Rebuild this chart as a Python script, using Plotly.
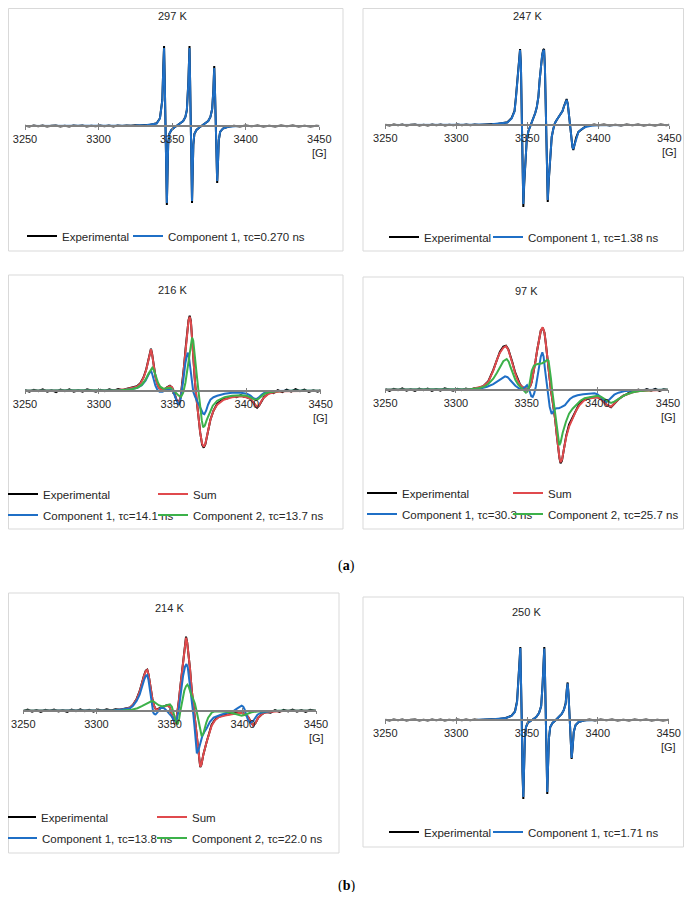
import plotly.graph_objects as go

# browser default page margin around the plot div
PAGE = 8
FW, FH = 692 - 2 * PAGE, 900 - 2 * PAGE
FIELD_TICKS = [3250, 3300, 3350, 3400, 3450]

# ---------------- data: (field [G], intensity [a.u.]) ----------------
# 297 K
P297_EXP = [(3250,0.3),(3253,-0.5),(3256,0.6),(3259,-0.2),(3262,0.4),(3265,-0.6),(3268,0.2),(3271,0.5),(3274,-0.4),(3277,0.3),
            (3280,-0.5),(3283,0.5),(3286,-0.1),(3289,0.6),(3292,-0.4),(3295,0.2),(3298,-0.3),(3301,0.5),(3304,-0.2),(3307,0.4),
            (3310,-0.5),(3313,0.4),(3316,-0.1),(3319,0.5),(3322,0.2),(3325,0.8),(3328,0.4),(3331,1.1),(3334,0.8),(3337,2.0),
            (3339.5,2.8),(3341.7,7.8),(3343.3,26),(3344,60),(3344.5,80),(3344.9,52),(3345.4,0),(3345.9,-57),(3346.4,-79),(3346.8,-52),
            (3347.3,-19),(3348,-8),(3349.5,-4),(3351.5,-1.5),(3353.5,0.5),(3355.5,2.5),(3357.5,5),(3359,9),(3360,16),(3361,44),
            (3361.6,74),(3361.8,80),(3362.2,46),(3362.7,0),(3363.1,-52),(3363.5,-77),(3363.9,-52),(3364.4,-19),(3365.1,-8),(3366.5,-4),
            (3368.5,-1.5),(3370.5,0.5),(3372.5,2.5),(3374.5,5),(3376,9),(3377.2,17),(3378,36),(3378.6,60),(3379.1,36),(3379.6,0),
            (3380.1,-39),(3380.6,-57),(3381.1,-39),(3381.7,-14),(3382.6,-6),(3384.5,-2.5),(3388,-0.8),(3392,0.3),(3396,-0.4),(3400,0.5),
            (3404,-0.3),(3408,0.5),(3412,-0.5),(3416,0.2),(3420,-0.6),(3424,0.4),(3428,-0.2),(3432,0.5),(3436,-0.4),(3440,0.3),
            (3444,-0.5),(3448,0.3),(3450,-0.1)]
P297_C1 = [(3250,0),(3280,0),(3310,0),(3325,0.5),(3333,1),(3337,1.8),(3339.5,2.5),(3341.7,7.5),(3343.3,25),(3344,58),
           (3344.5,78),(3344.9,50),(3345.4,0),(3345.9,-55),(3346.4,-77),(3346.8,-50),(3347.3,-18),(3348,-8),(3349.5,-4),(3351.5,-1.5),
           (3353.5,0.5),(3355.5,2.5),(3357.5,5),(3359,9),(3360,16),(3361,43),(3361.6,72),(3361.8,78),(3362.2,45),(3362.7,0),
           (3363.1,-50),(3363.5,-75),(3363.9,-50),(3364.4,-18),(3365.1,-8),(3366.5,-4),(3368.5,-1.5),(3370.5,0.5),(3372.5,2.5),(3374.5,5),
           (3376,9),(3377.2,17),(3378,35),(3378.6,58),(3379.1,35),(3379.6,0),(3380.1,-38),(3380.6,-55),(3381.1,-38),(3381.7,-14),
           (3382.6,-6),(3384.5,-2.5),(3388,-0.8),(3395,0),(3420,0),(3450,0)]

# 247 K
P247_EXP = [(3250,0.3),(3253,-0.4),(3256,0.5),(3259,-0.3),(3262,0.5),(3265,-0.6),(3268,0.2),(3271,0.5),(3274,-0.4),(3277,0.3),
            (3280,-0.5),(3283,0.4),(3286,-0.2),(3289,0.6),(3292,-0.4),(3295,0.3),(3298,-0.3),(3301,0.5),(3304,-0.2),(3307,0.4),
            (3310,-0.3),(3313,0.5),(3316,0.1),(3319,0.6),(3322,0.4),(3325,1.0),(3328,0.8),(3331,1.5),(3334,1.8),(3336,2.8),
            (3339,7),(3341,14),(3342,28),(3343,46),(3343.8,64),(3344.9,76),(3345.5,61),(3346.1,15),(3346.6,-42),(3347.2,-82),
            (3347.8,-60),(3348.6,-33),(3349.6,-15),(3350.8,-6),(3352,-1.5),(3353.2,3),(3354.4,7),(3355.6,12),(3356.7,18),(3357.8,28),
            (3358.7,45),(3359.6,60),(3360.5,70),(3361.2,75),(3361.8,76),(3362.4,58),(3363,12),(3363.7,-46),(3364.4,-77),(3365.1,-56),
            (3366,-32),(3367.2,-12),(3368.3,-4),(3369.5,2),(3370.7,5),(3372,8),(3373.5,10.5),(3374.8,14),(3375.9,19),(3376.9,24),
            (3377.7,26),(3378.5,21),(3379.3,11),(3380.1,-2),(3381,-15),(3381.8,-22),(3382.4,-25),(3383.2,-20),(3384.4,-12.5),(3386,-7),
            (3388.3,-4),(3391,-1.5),(3394,-0.4),(3397,0.5),(3400,-0.3),(3404,0.5),(3408,-0.5),(3412,0.3),(3416,-0.5),(3420,0.4),
            (3424,-0.2),(3428,0.5),(3432,-0.5),(3436,0.3),(3440,-0.6),(3444,0.4),(3448,-0.2),(3450,0.2)]
P247_C1 = [(3250,0),(3280,0),(3310,0.3),(3325,0.8),(3332,1.5),(3336,2.5),(3339,6.5),(3341,13.5),(3342,27),(3343,45),
           (3343.8,63),(3344.9,75),(3345.5,60),(3346.1,15),(3346.6,-40),(3347.2,-79),(3347.8,-58),(3348.6,-32),(3349.6,-15),(3350.8,-6),
           (3352,-1.5),(3353.2,3),(3354.4,7),(3355.6,12),(3356.7,18),(3357.8,28),(3358.7,45),(3359.6,60),(3360.5,70),(3361.2,74),
           (3361.8,75),(3362.4,58),(3363,12),(3363.7,-45),(3364.4,-75),(3365.1,-55),(3366,-32),(3367.2,-12),(3368.3,-4),(3369.5,2),
           (3370.7,5),(3372,8),(3373.5,10.5),(3374.8,14),(3375.9,19),(3376.9,23),(3377.7,25),(3378.5,21),(3379.3,11),(3380.1,-2),
           (3381,-15),(3381.8,-22),(3382.4,-24),(3383.2,-20),(3384.4,-12.5),(3386,-7),(3388.3,-4),(3391,-2),(3395,-0.8),(3400,-0.3),
           (3420,0),(3450,0)]

# 216 K
P216_EXP = [(3250,0.5),(3253,-1),(3256,1),(3259,-0.5),(3262,1.4),(3265,-1),(3268,0.5),(3271,-1.4),(3274,1),(3277,-0.5),
            (3280,1.4),(3283,-1),(3286,0.5),(3289,-1),(3292,1.4),(3295,0),(3298,-1),(3301,1),(3304,-0.5),(3307,1.4),
            (3310,0),(3313,1.6),(3316,0.5),(3319,2),(3322,3),(3325.7,4.5),(3328,7.5),(3330.2,13.5),(3332,21.5),(3333.5,32.5),
            (3334.5,40),(3335.2,42),(3336,36.5),(3337,24.5),(3338.2,14.5),(3339.3,7.5),(3340.5,3),(3342,1.5),(3344,0.5),(3346,3.5),
            (3348,5),(3349.5,3),(3351,-2),(3352.5,-9.5),(3354,-12.5),(3355.3,-6),(3356.5,8),(3357.6,25),(3358.6,42),(3359.6,58),
            (3360.6,70.5),(3361.4,75),(3362.2,69.5),(3363.1,50),(3364,25),(3365,8),(3366,-8),(3367.2,-25),(3368.5,-42),(3369.8,-54),
            (3370.9,-57),(3372,-53.5),(3373.5,-42),(3375.4,-29),(3377.5,-20),(3380,-13),(3382,-10.5),(3384.4,-8),(3387,-7.5),(3390,-5.5),
            (3393,-6.5),(3396,-4.5),(3398,-6),(3400,-6.5),(3402.5,-8),(3404.5,-12),(3406,-15.5),(3407,-17),(3408.3,-15),(3410,-10),
            (3411.6,-6.5),(3414,-3.5),(3416,-1.5),(3418,-2.5),(3421,0.5),(3424,-1.5),(3427,1),(3430,-1),(3433,1.5),(3436,-0.5),
            (3439,1.2),(3442,-1.3),(3445,0.5),(3448,-1),(3450,0.5)]
P216_SUM = [(3250,0),(3290,0),(3310,0.5),(3318,1.5),(3322,3),(3325.7,4),(3328,7),(3330.2,13),(3332,21),(3333.5,32),
            (3334.5,39),(3335.2,41.5),(3336,36),(3337,24),(3338.2,14),(3339.3,7),(3340.5,3),(3342,1),(3344,1),(3346,3),
            (3348,4.5),(3349.5,3.5),(3351,-2),(3352.5,-9),(3354,-12),(3355.3,-6),(3356.5,8),(3357.6,25),(3358.6,42),(3359.6,58),
            (3360.6,70),(3361.4,74),(3362.2,69),(3363.1,50),(3364,25),(3365,8),(3366,-8),(3367.2,-25),(3368.5,-42),(3369.8,-53),
            (3370.9,-56),(3372,-53),(3373.5,-42),(3375.4,-29),(3377.5,-20),(3380,-14),(3384.4,-9),(3390,-6.5),(3396,-5.5),(3400,-6.5),
            (3402.5,-8),(3404.5,-12),(3406,-15.5),(3407,-16.5),(3408.3,-15),(3410,-10),(3411.6,-7),(3414,-4),(3416,-2.5),(3420,-1.2),
            (3425,-0.5),(3435,0),(3450,0)]
P216_C1 = [(3250,0),(3300,0),(3315,0.5),(3322,1.5),(3326,3),(3329,5.5),(3331.5,10),(3333.5,16),(3334.5,19),(3335.2,20),
           (3336,17),(3337,11),(3338.2,5),(3339.5,1),(3341,-1),(3343,-1),(3345.5,0.5),(3347.5,2),(3349,1.5),(3350.5,-2),
           (3352,-8),(3353.2,-13),(3354,-14.5),(3355,-11),(3356,-2),(3357.2,12),(3358.5,28),(3359.5,36),(3360,38),(3360.8,35),
           (3361.8,22),(3362.8,8),(3363.8,-1),(3365,-6),(3366.5,-11),(3368,-16),(3369.5,-21),(3370.5,-23),(3371.3,-23.5),(3372.5,-20),
           (3373.8,-14),(3375.4,-9),(3377.5,-6.5),(3380,-5),(3385,-3),(3390,-2),(3396,-2),(3400,-3),(3402.5,-5),(3404.5,-7.5),
           (3406.4,-8.5),(3408,-7),(3410,-4),(3412,-2),(3415,-1),(3420,-0.3),(3430,0),(3450,0)]
P216_C2 = [(3250,0),(3300,0),(3315,0.5),(3322,1.5),(3326,3),(3329,6),(3331.5,11),(3333.5,17),(3335,21),(3336.1,23),
           (3337.3,20),(3338.5,14),(3340,8),(3341.5,4),(3343.5,2),(3346,2.5),(3348.3,3),(3350,1),(3352,-2.5),(3354,-5),
           (3355.6,-6),(3357,-2),(3358.5,8),(3360,22),(3361.5,40),(3362.5,50),(3363,53),(3363.8,50),(3364.8,38),(3366,18),
           (3367.3,0),(3368.5,-18),(3369.6,-30),(3370.5,-36.5),(3371.6,-35),(3373,-29),(3375,-21),(3377,-15),(3380,-10),(3385,-6.5),
           (3390,-5),(3396,-4.5),(3400,-5),(3402.5,-6.5),(3404.5,-8.5),(3406.4,-9.5),(3408,-8),(3410,-5),(3412,-3),(3415,-1.5),
           (3420,-0.6),(3430,0),(3450,0)]

# 97 K
P97_EXP = [(3250,0.6),(3253,-1.2),(3256,0.8),(3259,-0.6),(3262,1.3),(3265,-0.9),(3268,0.4),(3271,-1.3),(3274,1.1),(3277,-0.4),
           (3280,1.2),(3283,-1.1),(3286,0.6),(3289,-0.9),(3292,1.3),(3295,-0.2),(3298,-1.1),(3301,0.9),(3304,-0.6),(3307,1.2),
           (3310,0.1),(3313,1.4),(3316,1.8),(3319.3,3.5),(3322.9,8.5),(3326.4,19.8),(3329,31),(3331.1,38),(3333.5,43),(3335.4,44),
           (3337,40.5),(3338.2,35.5),(3340,27),(3341.8,17.5),(3343.5,10.5),(3345.3,5.3),(3347,2.5),(3348.8,1),(3350.2,0),(3351.5,1.5),
           (3352.6,4),(3353.6,8),(3355,18),(3356.3,29),(3357.5,40),(3358.7,51),(3360,59),(3361.4,62),(3362.6,57),(3363.5,47),
           (3364.2,37),(3365.3,20),(3366.5,6),(3367.3,-2),(3368.2,-10),(3369.2,-19),(3370.2,-30),(3371.2,-44),(3372.2,-58),(3373.2,-68.5),
           (3374,-73.5),(3375,-71),(3376.3,-60),(3378,-46),(3380,-35),(3382.6,-27),(3385,-19.5),(3387.3,-14),(3390,-10.5),(3393,-8.5),
           (3396.7,-7.5),(3400,-7.5),(3403,-10),(3406.5,-15),(3409.7,-17.5),(3412.5,-13),(3415,-9.5),(3418.4,-6),(3420.3,-5),(3423,-2.5),
           (3426,-2.2),(3429,0.2),(3432,-1.2),(3435,0.6),(3438,-0.9),(3441,0.8),(3444,-1.1),(3447,0.5),(3450,-0.4)]
P97_SUM = [(3250,0),(3290,0),(3305,0.5),(3312,1),(3316,2),(3319.3,3.5),(3322.9,8),(3326.4,19),(3329,30),(3331.1,37),
           (3333.5,42),(3335.4,43.5),(3337,40),(3338.2,35),(3340,26),(3341.8,17),(3343.5,10),(3345.3,5),(3347,2.5),(3348.8,1),
           (3350.2,0),(3351.5,1.5),(3352.6,4),(3353.6,8),(3355,18),(3356.3,29),(3357.5,40),(3358.7,51),(3360,59),(3361.4,62.5),
           (3362.6,57),(3363.5,47),(3364.2,37),(3365.3,20),(3366.5,6),(3367.3,-2),(3368.2,-10),(3369.2,-19),(3370.2,-30),(3371.2,-44),
           (3372.2,-58),(3373.2,-68),(3374,-72.5),(3375,-70),(3376.3,-60),(3378,-47),(3380,-37),(3382.6,-28),(3385,-21),(3387.3,-15.5),
           (3390,-11.5),(3393,-9),(3396.7,-8),(3400,-7.5),(3403,-10),(3406.5,-15),(3409.7,-17),(3412.5,-13),(3415,-9.5),(3418.4,-6),
           (3420.3,-5),(3425,-2.5),(3430,-1.2),(3440,-0.3),(3450,0)]
P97_C1 = [(3250,0),(3300,0),(3312,0.5),(3318,1.5),(3322,3),(3326.4,5.5),(3329.5,8.5),(3332,11.5),(3334.7,13.4),(3336.5,12.5),
          (3338.2,10),(3340,7),(3342,4),(3344.5,1.5),(3347,1),(3348.8,2.5),(3350.3,4.5),(3351.3,2),(3352.3,-3),(3353.3,-6.5),
          (3354.3,-7.2),(3355.3,-4),(3356.5,3),(3357.7,13),(3358.8,24),(3360,33),(3361.1,37.4),(3362,33),(3363,20),(3364.2,7),
          (3365.2,-6),(3366.3,-17),(3367.7,-24.3),(3369,-22),(3370.2,-19),(3371.3,-18.5),(3372.8,-18.5),(3374.5,-17.5),(3376,-16),(3377.1,-15.5),
          (3378.5,-13),(3380.6,-9.3),(3383,-7),(3386,-5.5),(3390,-4.5),(3395,-3.5),(3398,-3.5),(3400,-4.5),(3402,-7),(3404,-10),
          (3405.5,-11.5),(3406.5,-12.3),(3408,-10.5),(3410,-7.5),(3412,-5),(3415,-3),(3420,-1.2),(3430,-0.3),(3450,0)]
P97_C2 = [(3250,0),(3300,0),(3310,0.5),(3316,1.5),(3320,3),(3323,6),(3326.4,11),(3329,17),(3331.1,23),(3333.5,28.5),
          (3335.9,30.7),(3337.3,28),(3338.5,23),(3340,17),(3342,10),(3344,5),(3346,2),(3348,-0.5),(3349.5,-3),(3350.5,-2),
          (3351.8,4),(3352.8,12),(3353.6,19),(3355,23.5),(3357.1,25.5),(3359,26),(3361,26.5),(3363,28),(3364.5,30),(3365.5,29),
          (3366.3,22),(3367.2,11),(3368,0),(3369,-12),(3370,-22),(3371,-35),(3372,-48),(3373.1,-55.5),(3374,-53),(3375.5,-43),
          (3377.8,-32),(3380,-24),(3382.5,-19),(3384.9,-15.5),(3388,-11),(3391,-8.5),(3394.3,-7.3),(3397,-6.5),(3400,-6),(3402.5,-7),
          (3405,-9.5),(3407.5,-12),(3409.7,-13.3),(3412,-12),(3415,-9.5),(3418,-6.5),(3420,-5),(3425,-2.5),(3430,-1.3),(3440,-0.3),
          (3450,0)]

# 214 K
P214_EXP = [(3250,-0.4),(3253,1.1),(3256,-0.9),(3259,0.6),(3262,-1.2),(3265,0.9),(3268,-0.3),(3271,1.2),(3274,-0.8),(3277,0.4),
            (3280,-1.1),(3283,1.0),(3286,-0.5),(3289,1.3),(3292,-0.6),(3295,0.8),(3298,-1.0),(3301,1.2),(3304,0.1),(3307,1.4),
            (3310,0.2),(3313,1.5),(3316,1.0),(3319,2.2),(3322.9,3.2),(3325,6),(3327.5,12),(3329.5,19.5),(3330.9,27.5),(3332.5,35.5),
            (3333.7,40),(3334.7,41),(3335.6,36),(3336.4,28),(3337.1,21.7),(3338.2,12),(3339.3,5),(3340.3,2),(3341.5,1.5),(3343,2.5),
            (3344.5,3),(3346.5,4.5),(3348,5.5),(3349.1,5.5),(3350.2,3),(3351.3,-3),(3352.5,-9),(3353.5,-12.5),(3354.4,-11),(3355.3,-3),
            (3356.3,10),(3357.3,24),(3358.2,35),(3359.3,52),(3360.4,67),(3361.2,74),(3362,68),(3363,55),(3363.9,42),(3365,22),
            (3366.2,5),(3367,-5),(3368,-15),(3368.9,-28),(3369.6,-38),(3370.2,-48),(3370.9,-56.5),(3371.7,-54),(3373,-44),(3375.3,-31),
            (3377,-21),(3378.7,-14),(3381,-9),(3383.3,-6.2),(3387,-4.5),(3390,-3.5),(3395,-2.5),(3398,-1.5),(3401,-3),(3403.5,-6),
            (3405.5,-11),(3407.2,-15),(3408.8,-12),(3410.5,-7),(3413,-3.5),(3416,-1.2),(3419,-2.0),(3422,0.6),(3425,-1.2),(3428,0.9),
            (3431,-0.7),(3434,1.1),(3437,-0.9),(3440,0.6),(3443,-1.2),(3446,0.8),(3450,-0.3)]
P214_SUM = [(3250,0),(3300,0),(3312,0.5),(3318,1.5),(3320.7,2),(3322.9,3),(3325,6),(3327.5,11.7),(3329.5,19),(3330.9,27),
            (3332.5,35),(3333.7,39.5),(3334.7,40.7),(3335.6,36),(3336.4,28),(3337.1,21.7),(3338.2,12),(3339.3,5),(3340.3,2),(3341.5,1),
            (3343,2),(3344.5,3),(3346.5,4),(3348,5),(3349.1,5),(3350.2,3),(3351.3,-3),(3352.5,-9),(3353.5,-12.5),(3354.4,-11),
            (3355.3,-3),(3356.3,10),(3357.3,24),(3358.2,35),(3359.3,52),(3360.4,67),(3361.2,73),(3362,68),(3363,55),(3363.9,42),
            (3365,22),(3366.2,5),(3367,-5),(3368,-15),(3368.9,-28),(3369.6,-38),(3370.2,-48),(3370.9,-56),(3371.7,-54),(3373,-44),
            (3375.3,-31),(3377,-22),(3378.7,-15),(3381,-9.5),(3383.3,-6.7),(3387,-5),(3390,-4),(3395,-3),(3398,-2),(3401,-3),
            (3403.5,-6),(3405.5,-11),(3407.2,-15),(3408.8,-12),(3410.5,-7),(3413,-3.5),(3415,-2),(3420,-1),(3430,0),(3450,0)]
P214_C1 = [(3250,0),(3300,0),(3312,0.5),(3318,1.5),(3322.9,2.5),(3325,5),(3327.5,10),(3329.5,16),(3331,24),(3332.6,31),
           (3333.8,35),(3334.7,35.7),(3335.5,31),(3336.3,22),(3337.1,12),(3338,3),(3338.8,-2),(3339.6,-3.5),(3340.4,-3.7),(3341.5,-2),
           (3342.6,0.5),(3344,2.8),(3345.5,3),(3347,1.5),(3348.5,-1),(3350,-3.5),(3351.5,-6),(3353,-10),(3354.1,-11),(3355,-8),
           (3356,-1),(3357,10),(3358,22),(3359.2,35),(3360.5,44),(3361.5,46.7),(3362.4,43),(3363.3,33),(3364.3,20),(3365.3,7),
           (3366.2,-4),(3367,-16),(3367.8,-30),(3368.6,-42.6),(3369.6,-40),(3370.8,-33),(3372.2,-26),(3373.8,-21),(3375.3,-17.6),(3377.5,-11),
           (3380,-7),(3385,-4),(3390,-2),(3394,0),(3396.5,2.5),(3398.3,4.5),(3399.2,5),(3400.3,4),(3401.3,1),(3402.3,-4),
           (3403.5,-9),(3404.9,-12),(3406,-11.5),(3407.2,-10),(3408.5,-7),(3410,-4),(3412.5,-2),(3415,-1.2),(3420,-0.4),(3430,0),
           (3450,0)]
P214_C2 = [(3250,0),(3310,0),(3318,0.3),(3324,1),(3328,2.5),(3331,4.5),(3334,7),(3336.2,9),(3337.7,9.7),(3339.2,9),
           (3341,7),(3342.5,5.5),(3344.5,4.5),(3346.5,4.5),(3348.5,5.8),(3350.2,6.4),(3351.5,4),(3352.5,-1),(3353.5,-7),(3354.5,-12),
           (3355.5,-13.5),(3356.5,-8),(3357.5,1),(3358.8,12),(3360,20),(3361.2,24.5),(3362.1,26),(3363,24),(3364,19),(3365,15),
           (3366,12),(3367.3,7),(3368.5,-1),(3369.6,-10),(3370.6,-19),(3371.9,-25.5),(3373,-23),(3374,-17),(3375,-12),(3376.3,-7),
           (3377.6,-4),(3379,-1.5),(3381,-0.5),(3385,-0.5),(3389,-1),(3392,-2),(3395,-3.5),(3397.5,-4.5),(3399.2,-5),(3401,-4.3),
           (3403,-3),(3406,-1.5),(3410,-0.7),(3415,-0.3),(3425,0),(3450,0)]

# 250 K
P250_EXP = [(3250,0.3),(3253,-0.5),(3256,0.5),(3259,-0.2),(3262,0.5),(3265,-0.5),(3268,0.2),(3271,0.5),(3274,-0.4),(3277,0.3),
            (3280,-0.5),(3283,0.4),(3286,-0.2),(3289,0.5),(3292,-0.4),(3295,0.3),(3298,-0.3),(3301,0.5),(3304,-0.2),(3307,0.4),
            (3310,-0.3),(3313,0.4),(3316,0),(3319,0.5),(3322,0.3),(3325,0.8),(3328,0.6),(3331,1.2),(3335,2),(3339,4.2),
            (3341.5,8.5),(3343,19),(3344.2,41),(3344.9,63),(3345.3,73),(3345.8,46),(3346.3,0),(3346.8,-52),(3347.4,-79),(3347.9,-51),
            (3348.5,-18),(3349.3,-7),(3350.5,-3),(3352.5,-1),(3354.5,1),(3356.5,3),(3358.5,7),(3360,14),(3361,36),(3361.7,61),
            (3362.2,73),(3362.7,46),(3363.2,0),(3363.8,-52),(3364.3,-74),(3364.8,-49),(3365.5,-18),(3366.4,-7),(3368,-3),(3370,-0.5),
            (3372.5,3),(3374.5,6),(3376,10),(3377.3,17),(3378.1,31),(3378.7,37.5),(3379.3,26),(3380.1,0),(3380.8,-27),(3381.5,-39),
            (3382.2,-28),(3383,-12),(3384.3,-5),(3386.5,-2),(3390,-0.5),(3394,0.4),(3398,-0.4),(3402,0.5),(3406,-0.3),(3410,0.5),
            (3414,-0.5),(3418,0.3),(3422,-0.5),(3426,0.4),(3430,-0.2),(3434,0.5),(3438,-0.4),(3442,0.3),(3446,-0.5),(3450,0.2)]
P250_C1 = [(3250,0),(3290,0),(3315,0.3),(3328,1),(3335,2),(3339,4),(3341.5,8),(3343,18),(3344.2,40),(3344.9,62),
           (3345.3,72),(3345.8,45),(3346.3,0),(3346.8,-50),(3347.4,-77),(3347.9,-50),(3348.5,-18),(3349.3,-7),(3350.5,-3),(3352.5,-1),
           (3354.5,1),(3356.5,3),(3358.5,7),(3360,14),(3361,35),(3361.7,60),(3362.2,71.5),(3362.7,45),(3363.2,0),(3363.8,-50),
           (3364.3,-72),(3364.8,-48),(3365.5,-18),(3366.4,-7),(3368,-3),(3370,-0.5),(3372.5,3),(3374.5,6),(3376,10),(3377.3,16),
           (3378.1,30),(3378.7,36.5),(3379.3,25),(3380.1,0),(3380.8,-26),(3381.5,-38),(3382.2,-27),(3383,-12),(3384.3,-5),(3386.5,-2),
           (3390,-0.5),(3400,0),(3420,0),(3450,0)]

# ---------------- style / layout (reference pixel positions) ----------------
BLACK, RED, BLUE, GREEN = "#000000", "#e04a4d", "#1f6fc6", "#3cb14a"
TEXT, AXIS, FRAME = "#262626", "#808080", "#d9d9d9"
FONT = "Liberation Sans"
LEG_TEXT_OFFSET = 40  # px between legend origin and start of its text


def px(x):
    return (x - PAGE) / FW


def py(y):
    return 1 - (y - PAGE) / FH


PANELS = [
    dict(title="297 K", box=(3, 1, 343, 251), ax=(25, 319.3), base=126, tpos=(172, 16),
         series=[("Experimental", P297_EXP, BLACK, (62, 236)),
                 ("Component 1, τc=0.270 ns", P297_C1, BLUE, (168, 236))]),
    dict(title="247 K", box=(363, 1, 690, 251), ax=(385.3, 669.3), base=125, tpos=(527, 16),
         series=[("Experimental", P247_EXP, BLACK, (424, 237)),
                 ("Component 1, τc=1.38 ns", P247_C1, BLUE, (528, 237))]),
    dict(title="216 K", box=(3, 275, 343, 529), ax=(25, 320.7), base=390.7, tpos=(172, 290),
         series=[("Experimental", P216_EXP, BLACK, (43, 494)), ("Sum", P216_SUM, RED, (193, 494)),
                 ("Component 1, τc=14.1 ns", P216_C1, BLUE, (43, 515)),
                 ("Component 2, τc=13.7 ns", P216_C2, GREEN, (193, 515))]),
    dict(title="97 K", box=(363, 277, 690, 529), ax=(385.3, 668), base=389.7, tpos=(526, 291),
         series=[("Experimental", P97_EXP, BLACK, (402, 493)), ("Sum", P97_SUM, RED, (548, 493)),
                 ("Component 1, τc=30.3 ns", P97_C1, BLUE, (402, 514)),
                 ("Component 2, τc=25.7 ns", P97_C2, GREEN, (548, 514))]),
    dict(title="214 K", box=(3, 593, 339, 853), ax=(23.3, 316), base=710.7, tpos=(169, 608),
         series=[("Experimental", P214_EXP, BLACK, (41, 817)), ("Sum", P214_SUM, RED, (192, 817)),
                 ("Component 1, τc=13.8 ns", P214_C1, BLUE, (42, 838)),
                 ("Component 2, τc=22.0 ns", P214_C2, GREEN, (192, 838))]),
    dict(title="250 K", box=(363, 597, 690, 847), ax=(385.3, 668.7), base=720, tpos=(526, 612),
         series=[("Experimental", P250_EXP, BLACK, (424, 832)),
                 ("Component 1, τc=1.71 ns", P250_C1, BLUE, (528, 832))]),
]

fig = go.Figure()
layout = dict(width=FW, height=FH, margin=dict(l=0, r=0, t=0, b=0, autoexpand=False),
              paper_bgcolor="white", plot_bgcolor="rgba(0,0,0,0)", showlegend=True)
annotations, shapes = [], []
nleg = 0
for i, p in enumerate(PANELS, start=1):
    sx = "" if i == 1 else str(i)
    xa, ya = "x" + sx, "y" + sx
    base = p["base"]
    x0, x1 = p["ax"]
    pos = py(base)
    layout["xaxis" + sx] = dict(domain=[px(x0), px(x1)], range=[3250, 3450], anchor="free", position=pos,
                                showline=True, linecolor=AXIS, linewidth=1.5, ticks="outside", ticklen=3,
                                tickwidth=1.2, tickcolor=AXIS, tickvals=FIELD_TICKS,
                                ticktext=[str(t) for t in FIELD_TICKS], automargin=False,
                                tickfont=dict(family=FONT, size=11, color=TEXT),
                                showgrid=False, zeroline=False, fixedrange=True)
    layout["yaxis" + sx] = dict(domain=[py(base + 100), py(base - 100)], range=[-100, 100],
                                visible=False, anchor=xa, fixedrange=True, automargin=False)
    ox = str(6 + i)
    layout["xaxis" + ox] = dict(overlaying=xa, range=[3250, 3450], anchor="free", position=pos,
                                showline=False, ticks="inside", ticklen=3, tickwidth=1.2, tickcolor=AXIS,
                                tickvals=FIELD_TICKS, showticklabels=False, showgrid=False, automargin=False,
                                zeroline=False, fixedrange=True)
    fig.add_trace(go.Scatter(x=[], y=[], xaxis="x" + ox, yaxis=ya, showlegend=False, hoverinfo="skip"))

    for name, pts, color, (lx, ly) in p["series"]:
        nleg += 1
        lname = "legend" if nleg == 1 else f"legend{nleg}"
        layout[lname] = dict(x=px(lx - LEG_TEXT_OFFSET), y=py(ly), xanchor="left", yanchor="middle",
                             orientation="h", bgcolor="rgba(0,0,0,0)", borderwidth=0,
                             font=dict(family=FONT, size=11.5, color=TEXT), itemclick=False,
                             itemdoubleclick=False)
        fig.add_trace(go.Scatter(x=[a for a, b in pts], y=[b for a, b in pts], mode="lines", name=name,
                                 line=dict(color=color, width=2), xaxis=xa, yaxis=ya,
                                 legend=lname, hoverinfo="skip"))

    bx0, by0, bx1, by1 = p["box"]
    shapes.append(dict(type="rect", xref="paper", yref="paper",
                       x0=max(px(bx0), 0.5 / FW), x1=min(px(bx1), 1 - 0.5 / FW),
                       y0=py(by1), y1=min(py(by0), 1 - 0.5 / FH),
                       line=dict(color=FRAME, width=1), layer="below"))
    annotations.append(dict(text=p["title"], x=px(p["tpos"][0]), y=py(p["tpos"][1]), xref="paper",
                            yref="paper", showarrow=False, xanchor="center", yanchor="middle",
                            font=dict(family=FONT, size=11, color=TEXT)))
    annotations.append(dict(text="[G]", x=px(x1), y=py(base + 27), xref="paper", yref="paper",
                            showarrow=False, xanchor="center", yanchor="middle",
                            font=dict(family=FONT, size=11, color=TEXT)))

for lab, ly in (("(<b>a</b>)", 566), ("(<b>b</b>)", 886)):
    annotations.append(dict(text=lab, x=px(346), y=py(ly), xref="paper", yref="paper",
                            showarrow=False, xanchor="center", yanchor="middle",
                            font=dict(family="Liberation Serif", size=14, color="#000000")))

fig.update_layout(**layout, annotations=annotations, shapes=shapes)
fig.write_html("out.html")
